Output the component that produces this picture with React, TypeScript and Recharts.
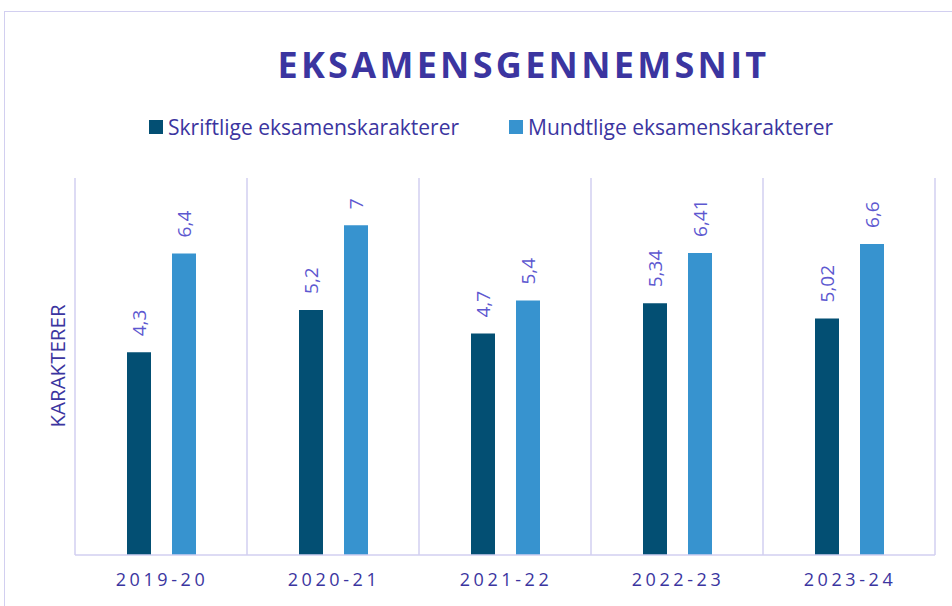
import React from "react";
import { BarChart, Bar, XAxis, YAxis, CartesianGrid, LabelList } from "recharts";

const categories = ["2019-20", "2020-21", "2021-22", "2022-23", "2023-24"];
const skriftlige = [4.3, 5.2, 4.7, 5.34, 5.02];
const mundtlige = [6.4, 7, 5.4, 6.41, 6.6];
const seriesNames = ["Skriftlige eksamenskarakterer", "Mundtlige eksamenskarakterer"];
const yDomain = [0, 8];

const data = categories.map((c, i) => ({ cat: c, s: skriftlige[i], m: mundtlige[i] }));

const FONT = "'Open Sans', 'Noto Sans', sans-serif";
const DARK = "#034f73";
const LIGHT = "#3793cf";
const TEXT = "#3b35a0";
const LABEL = "#5d58d0";
const GRID = "#d2cff0";

const fmt = (v: number) => String(v).replace(".", ",");

const RotLabel = (props: any) => {
  const { x, y, width, value } = props;
  const cx = x + width / 2;
  const ty = y - 16;
  return (
    <text
      x={cx}
      y={ty}
      transform={`rotate(-90, ${cx}, ${ty})`}
      textAnchor="start"
      dominantBaseline="central"
      fill={LABEL}
      fontSize={19}
      fontFamily={FONT}
    >
      {fmt(value)}
    </text>
  );
};

const Tick = (props: any) => {
  const { x, y, payload } = props;
  return (
    <text
      x={x + 1}
      y={y + 16}
      textAnchor="middle"
      dominantBaseline="central"
      fill={TEXT}
      fontSize={18}
      fontFamily={FONT}
      letterSpacing={3.6}
    >
      {payload.value}
    </text>
  );
};

export default function App() {
  return (
    <div style={{ position: "absolute", left: 0, top: 0, width: 952, height: 606, background: "#fff", overflow: "hidden" }}>
      <div
        style={{
          position: "absolute",
          left: 4,
          top: 11,
          width: 1000,
          height: 700,
          border: `1.5px solid ${GRID}`,
          boxSizing: "border-box",
        }}
      />
      <div
        style={{
          position: "absolute",
          left: 0,
          width: 1047,
          top: 40,
          textAlign: "center",
          fontFamily: FONT,
          fontWeight: 700,
          fontSize: 36,
          letterSpacing: 3.3,
          color: TEXT,
          lineHeight: "50px",
        }}
      >
        EKSAMENSGENNEMSNIT
      </div>
      <div
        style={{
          position: "absolute",
          top: 113,
          left: 149,
          display: "flex",
          alignItems: "center",
          fontFamily: FONT,
          fontSize: 21,
          color: TEXT,
          lineHeight: "28px",
        }}
      >
        <span style={{ display: "inline-block", width: 14, height: 14, background: DARK, marginRight: 5 }} />
        <span style={{ width: 341, whiteSpace: "nowrap" }}>{seriesNames[0]}</span>
        <span style={{ display: "inline-block", width: 14, height: 14, background: LIGHT, marginRight: 5 }} />
        <span style={{ whiteSpace: "nowrap" }}>{seriesNames[1]}</span>
      </div>
      <div
        style={{
          position: "absolute",
          left: 57,
          top: 366,
          transform: "translate(-50%, -50%) rotate(-90deg)",
          fontFamily: FONT,
          fontSize: 20.5,
          color: TEXT,
          whiteSpace: "nowrap",
        }}
      >
        KARAKTERER
      </div>
      <div style={{ position: "absolute", left: 0, top: 0 }}>
        <BarChart
          width={952}
          height={606}
          data={data}
          margin={{ top: 178, right: 17, bottom: 21, left: 75 }}
          barCategoryGap={52}
          barGap={21}
        >
          <CartesianGrid
            horizontal={false}
            vertical={true}
            stroke={GRID}
            strokeWidth={1.5}
            verticalCoordinatesGenerator={({ offset }: any) =>
              Array.from({ length: categories.length + 1 }, (_, i) => offset.left + (offset.width * i) / categories.length)
            }
          />
          <XAxis
            dataKey="cat"
            height={30}
            axisLine={{ stroke: GRID, strokeWidth: 1.5 }}
            tickLine={false}
            tick={<Tick />}
            interval={0}
          />
          <YAxis hide domain={yDomain} />
          <Bar dataKey="s" name={seriesNames[0]} fill={DARK} isAnimationActive={false}>
            <LabelList dataKey="s" content={<RotLabel />} />
          </Bar>
          <Bar dataKey="m" name={seriesNames[1]} fill={LIGHT} isAnimationActive={false}>
            <LabelList dataKey="m" content={<RotLabel />} />
          </Bar>
        </BarChart>
      </div>
    </div>
  );
}
